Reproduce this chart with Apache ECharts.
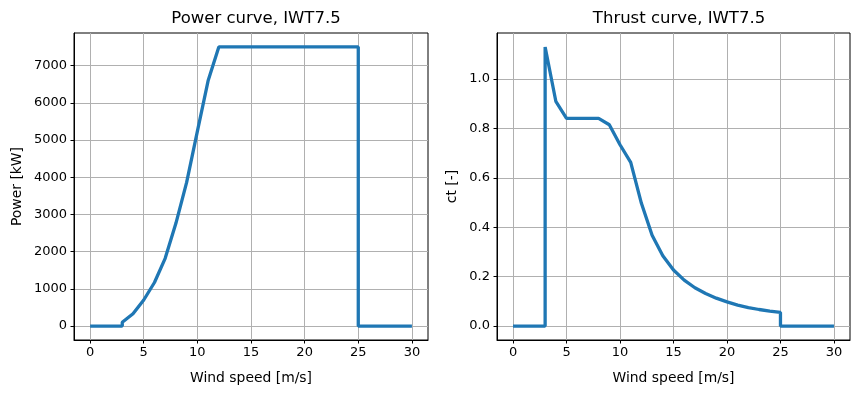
<!DOCTYPE html>
<html>
<head>
<meta charset="utf-8">
<script src="https://cdn.jsdelivr.net/npm/echarts@6/dist/echarts.min.js"></script>
<style>
html,body{margin:0;padding:0;background:#fff;}
#chart{width:859px;height:393px;}
</style>
</head>
<body>
<div id="chart"></div>
<script>
// Data
const windSpeed = [0, 3, 3, 4, 5, 6, 7, 8, 9, 10, 11, 12, 13, 14, 15, 16, 17, 18, 19, 20, 21, 22, 23, 24, 25, 25, 30];
const power = [0, 0, 100, 330, 700, 1170, 1820, 2760, 3860, 5230, 6590, 7500, 7500, 7500, 7500, 7500, 7500, 7500, 7500, 7500, 7500, 7500, 7500, 7500, 7500, 0, 0];
const thrust = [0, 0, 1.13, 0.91, 0.841, 0.841, 0.841, 0.841, 0.815, 0.734, 0.663, 0.497, 0.368, 0.285, 0.227, 0.186, 0.155, 0.132, 0.113, 0.098, 0.085, 0.075, 0.067, 0.060, 0.055, 0, 0];
const xTicks = [0, 5, 10, 15, 20, 25, 30];
const powerTicks = [0, 1000, 2000, 3000, 4000, 5000, 6000, 7000];
const thrustTicks = [0, 0.2, 0.4, 0.6, 0.8, 1.0];

const FONT = 'DejaVu Sans';
const blue = '#1f77b4';

function xAxisDef(gridIndex) {
  return {
    type: 'value', gridIndex: gridIndex, min: -1.5, max: 31.5,
    name: 'Wind speed [m/s]', nameLocation: 'middle', nameGap: 31,
    nameTextStyle: {fontFamily: FONT, fontSize: 13.9, color: '#000'},
    axisLine: {show: true, onZero: false, lineStyle: {color: '#000', width: 1}},
    axisTick: {show: true, inside: false, length: 3.5, customValues: xTicks, lineStyle: {color: '#000', width: 1}},
    axisLabel: {show: true, customValues: xTicks, margin: 6, fontFamily: FONT, fontSize: 13, color: '#000'},
    splitLine: {show: true, lineStyle: {color: '#b0b0b0', width: 1}}
  };
}
function yAxisDef(gridIndex, ticks, min, max, name, gap, fmt) {
  return {
    type: 'value', gridIndex: gridIndex, min: min, max: max,
    name: name, nameLocation: 'middle', nameGap: gap,
    nameTextStyle: {fontFamily: FONT, fontSize: 13.9, color: '#000'},
    axisLine: {show: true, onZero: false, lineStyle: {color: '#000', width: 1}},
    axisTick: {show: true, inside: false, length: 3.5, customValues: ticks, lineStyle: {color: '#000', width: 1}},
    axisLabel: {show: true, customValues: ticks, margin: 7, fontFamily: FONT, fontSize: 13, color: '#000', formatter: fmt},
    splitLine: {show: true, lineStyle: {color: '#b0b0b0', width: 1}}
  };
}

const chart = echarts.init(document.getElementById('chart'), null, {renderer: 'canvas'});
chart.setOption({
  animation: false,
  backgroundColor: '#fff',
  title: [
    {text: 'Power curve, IWT7.5', left: 251, top: 5, textAlign: 'center',
     textStyle: {fontFamily: FONT, fontSize: 16.5, fontWeight: 'normal', color: '#000'}},
    {text: 'Thrust curve, IWT7.5', left: 674, top: 5, textAlign: 'center',
     textStyle: {fontFamily: FONT, fontSize: 16.5, fontWeight: 'normal', color: '#000'}}
  ],
  grid: [
    {left: 74, top: 33, width: 354, height: 307, show: true, borderColor: '#000', borderWidth: 1},
    {left: 497, top: 33, width: 353, height: 307, show: true, borderColor: '#000', borderWidth: 1}
  ],
  xAxis: [xAxisDef(0), xAxisDef(1)],
  yAxis: [
    yAxisDef(0, powerTicks, -375, 7875, 'Power [kW]', 50, v => String(v)),
    yAxisDef(1, thrustTicks, -0.0565, 1.1865, 'ct [-]', 38, v => v.toFixed(1))
  ],
  series: [
    {type: 'line', xAxisIndex: 0, yAxisIndex: 0, showSymbol: false, symbol: 'none',
     data: windSpeed.map((w, i) => [w, power[i]]),
     lineStyle: {color: blue, width: 3.3}, itemStyle: {color: blue}},
    {type: 'line', xAxisIndex: 1, yAxisIndex: 1, showSymbol: false, symbol: 'none',
     data: windSpeed.map((w, i) => [w, thrust[i]]),
     lineStyle: {color: blue, width: 3.3}, itemStyle: {color: blue}}
  ]
});
</script>
</body>
</html>
